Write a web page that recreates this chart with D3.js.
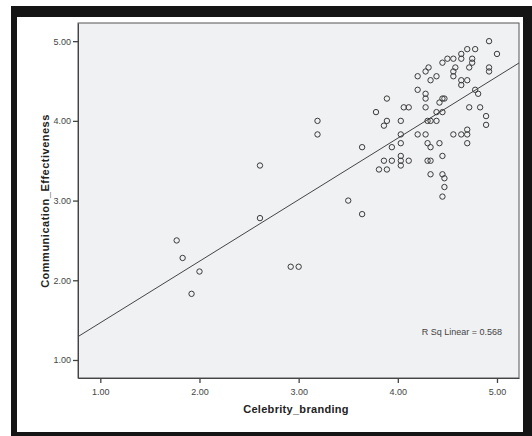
<!DOCTYPE html>
<html>
<head>
<meta charset="utf-8">
<script src="https://cdn.jsdelivr.net/npm/d3@7"></script>
<style>
  body { margin: 0; background: #fff; }
  svg { display: block; font-family: "Liberation Sans", Arial, sans-serif; }
</style>
</head>
<body>
<div class="container"></div>
<script>
// celebrity branding scores (x) and communication effectiveness (y)
let celebrity = [
  1.77, 1.83, 2.00, 1.92, 2.61, 2.61, 2.92, 3.00, 3.19, 3.19, 3.50, 3.64, 3.64,
  3.78, 3.86, 3.89, 3.89, 3.81, 3.89, 3.86, 3.94, 3.94,
  4.03, 4.03, 4.03, 4.03, 4.03, 4.03, 4.11, 4.06, 4.11,
  4.20, 4.20, 4.20, 4.28, 4.31, 4.28, 4.28, 4.28, 4.28, 4.30, 4.33,
  4.30, 4.30, 4.33, 4.33, 4.33, 4.33, 4.39, 4.39, 4.39, 4.42, 4.42,
  4.45, 4.45, 4.47, 4.45, 4.45, 4.45, 4.47, 4.47, 4.45,
  4.50, 4.56, 4.56, 4.56, 4.58, 4.56,
  4.64, 4.64, 4.64, 4.64, 4.64, 4.70, 4.70, 4.70, 4.70, 4.70,
  4.72, 4.72, 4.75, 4.75, 4.78, 4.78, 4.81, 4.83, 4.89, 4.89,
  4.92, 4.92, 4.92, 5.00
]
let communication = [
  2.50, 2.28, 2.11, 1.83, 3.44, 2.78, 2.17, 2.17, 4.00, 3.83, 3.00, 3.67, 2.83,
  4.11, 3.94, 4.00, 4.28, 3.39, 3.39, 3.50, 3.50, 3.67,
  4.00, 3.83, 3.72, 3.56, 3.50, 3.44, 3.50, 4.17, 4.17,
  3.83, 4.39, 4.56, 4.62, 4.67, 4.34, 4.28, 4.17, 3.83, 4.00, 4.00,
  3.72, 3.50, 3.50, 3.67, 3.33, 4.51, 4.56, 4.11, 4.00, 4.23, 3.72,
  4.73, 4.28, 4.28, 4.11, 3.56, 3.33, 3.28, 3.17, 3.05,
  4.78, 4.78, 4.62, 4.56, 4.67, 3.83,
  4.84, 4.78, 4.51, 4.45, 3.83, 4.90, 4.51, 3.89, 3.83, 3.72,
  4.67, 4.17, 4.78, 4.73, 4.90, 4.39, 4.34, 4.17, 4.06, 3.95,
  5.00, 4.67, 4.62, 4.84
]
let xTicks = [1, 2, 3, 4, 5]
let yTicks = [1, 2, 3, 4, 5]
// fit line
let fitIntercept = 0.695
let fitSlope = 0.772
let rSqLabel = 'R Sq Linear = 0.568'

let width = 532
let height = 436
let plot = { left: 78, right: 519, top: 23, bottom: 378 }

let svg = d3.select('.container')
  .append('svg')
  .attr('width', width)
  .attr('height', height)

// black picture frame
svg.append('rect')
  .attr('x', 11).attr('y', 6)
  .attr('width', width - 11).attr('height', height - 6)
  .attr('fill', '#151515')
svg.append('rect')
  .attr('x', 17).attr('y', 17)
  .attr('width', 506).attr('height', 415)
  .attr('fill', '#fff')

let xScale = d3.scaleLinear()
  .domain([0.775, 5.222])
  .range([plot.left, plot.right])
let yScale = d3.scaleLinear()
  .domain([0.774, 5.228])
  .range([plot.bottom, plot.top])

svg.append('rect')
  .attr('x', plot.left).attr('y', plot.top)
  .attr('width', plot.right - plot.left)
  .attr('height', plot.bottom - plot.top)
  .attr('fill', '#f0f1f3')
  .attr('stroke', '#555')
  .attr('stroke-width', 1)

let xAxis = d3.axisBottom(xScale)
  .tickValues(xTicks)
  .tickFormat(d3.format('.2f'))
  .tickSize(5)
  .tickSizeOuter(0)
let yAxis = d3.axisLeft(yScale)
  .tickValues(yTicks)
  .tickFormat(d3.format('.2f'))
  .tickSize(5)
  .tickSizeOuter(0)

let gx = svg.append('g')
  .attr('transform', `translate(0,${plot.bottom})`)
  .call(xAxis)
let gy = svg.append('g')
  .attr('transform', `translate(${plot.left},0)`)
  .call(yAxis)

svg.selectAll('.domain').attr('stroke', '#444')
svg.selectAll('.tick line').attr('stroke', '#444').attr('stroke-width', 1.3)
svg.selectAll('.tick text')
  .attr('fill', '#444')
  .style('font-size', '9px')
  .style('font-family', '"Liberation Sans", Arial, sans-serif')
gx.selectAll('.tick text').attr('dy', '0.95em')
gy.selectAll('.tick text').attr('x', -7)

// regression line
let x0 = xScale.domain()[0]
let x1 = xScale.domain()[1]
svg.append('line')
  .attr('x1', xScale(x0))
  .attr('y1', yScale(fitIntercept + fitSlope * x0))
  .attr('x2', xScale(x1))
  .attr('y2', yScale(fitIntercept + fitSlope * x1))
  .attr('stroke', '#444')
  .attr('stroke-width', 1)

let points = celebrity.map((d, i) => [d, communication[i]])
svg.selectAll('circle')
  .data(points)
  .enter()
  .append('circle')
  .attr('cx', (d) => xScale(d[0]))
  .attr('cy', (d) => yScale(d[1]))
  .attr('r', 2.7)
  .attr('fill', 'none')
  .attr('stroke', '#3a3a3a')
  .attr('stroke-width', 1)

svg.append('text')
  .attr('x', xScale(5.05))
  .attr('y', yScale(1.31))
  .attr('text-anchor', 'end')
  .attr('fill', '#444')
  .style('font-size', '9px')
  .text(rSqLabel)

svg.append('text')
  .attr('x', 296)
  .attr('y', 413)
  .attr('text-anchor', 'middle')
  .attr('fill', '#222')
  .style('font-size', '11px')
  .style('font-weight', 'bold')
  .style('letter-spacing', '0.3px')
  .text('Celebrity_branding')

svg.append('text')
  .attr('transform', `translate(49,201) rotate(-90)`)
  .attr('text-anchor', 'middle')
  .attr('fill', '#222')
  .style('font-size', '11px')
  .style('font-weight', 'bold')
  .style('letter-spacing', '0.5px')
  .text('Communication_Effectiveness')
</script>
</body>
</html>
